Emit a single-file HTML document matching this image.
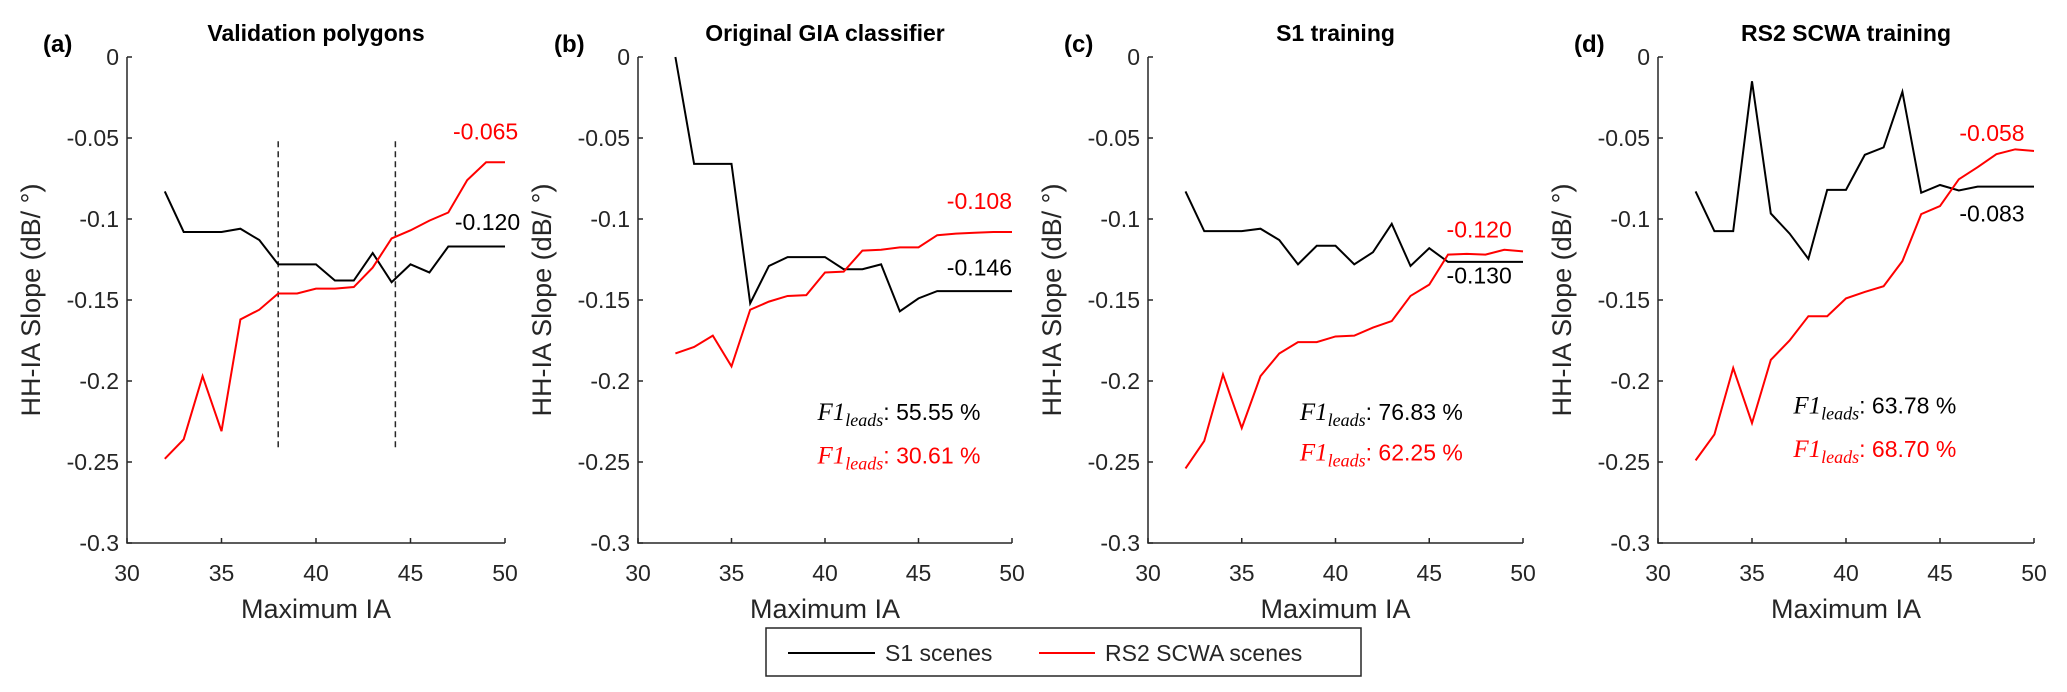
<!DOCTYPE html>
<html><head><meta charset="utf-8"><style>
html,body{margin:0;padding:0;background:#fff;}
svg{display:block;font-family:"Liberation Sans",Arial,sans-serif;}
</style></head><body>
<svg id="fig" width="2067" height="692" viewBox="0 0 2067 692">
<g id="panels"></g>
<g>
<rect x="766" y="628" width="595" height="48" fill="#fff" stroke="#262626" stroke-width="1.5"/>
<line x1="788" y1="653" x2="875" y2="653" stroke="#000" stroke-width="2"/>
<text x="885" y="661" font-size="23" fill="#262626">S1 scenes</text>
<line x1="1039" y1="653" x2="1095" y2="653" stroke="#f00" stroke-width="2"/>
<text x="1105" y="661" font-size="23" fill="#262626">RS2 SCWA scenes</text>
</g>
</svg>
<script>
const xCats = [32,33,34,35,36,37,38,39,40,41,42,43,44,45,46,47,48,49,50];
const xTicks = [30,35,40,45,50];
const yTicks = [0,-0.05,-0.1,-0.15,-0.2,-0.25,-0.3];
const yTickLabels = ["0","-0.05","-0.1","-0.15","-0.2","-0.25","-0.3"];
const panelTitles = ["Validation polygons","Original GIA classifier","S1 training","RS2 SCWA training"];
const panelTags = ["(a)","(b)","(c)","(d)"];
const s1A = [-0.083,-0.108,-0.108,-0.108,-0.106,-0.113,-0.128,-0.128,-0.128,-0.138,-0.138,-0.121,-0.139,-0.128,-0.133,-0.117,-0.117,-0.117,-0.117];
const rs2A = [-0.248,-0.236,-0.197,-0.231,-0.162,-0.156,-0.146,-0.146,-0.143,-0.143,-0.142,-0.130,-0.112,-0.107,-0.101,-0.096,-0.076,-0.065,-0.065];
const s1B = [0,-0.066,-0.066,-0.066,-0.152,-0.129,-0.1235,-0.1235,-0.1235,-0.131,-0.131,-0.128,-0.157,-0.149,-0.1445,-0.1445,-0.1445,-0.1445,-0.1445];
const rs2B = [-0.183,-0.179,-0.172,-0.191,-0.156,-0.151,-0.1475,-0.147,-0.133,-0.1325,-0.1195,-0.119,-0.1175,-0.1175,-0.110,-0.109,-0.1085,-0.108,-0.108];
const s1C = [-0.083,-0.1075,-0.1075,-0.1075,-0.106,-0.113,-0.128,-0.1165,-0.1165,-0.128,-0.1205,-0.103,-0.129,-0.118,-0.1265,-0.1265,-0.1265,-0.1265,-0.1265];
const rs2C = [-0.254,-0.237,-0.196,-0.229,-0.197,-0.183,-0.176,-0.176,-0.1725,-0.172,-0.167,-0.163,-0.1475,-0.1405,-0.122,-0.1215,-0.122,-0.119,-0.120];
const s1D = [-0.083,-0.1075,-0.1075,-0.015,-0.0966,-0.109,-0.1246,-0.082,-0.082,-0.0604,-0.0558,-0.0215,-0.0838,-0.079,-0.0824,-0.080,-0.080,-0.080,-0.080];
const rs2D = [-0.249,-0.233,-0.192,-0.226,-0.187,-0.175,-0.160,-0.160,-0.149,-0.145,-0.1415,-0.126,-0.097,-0.092,-0.0755,-0.068,-0.060,-0.057,-0.058];
const endLabelsS1 = ["-0.120","-0.146","-0.130","-0.083"];
const endLabelsRS2 = ["-0.065","-0.108","-0.120","-0.058"];
const f1S1 = ["","55.55","76.83","63.78"];
const f1RS2 = ["","30.61","62.25","68.70"];
const dashedX = [38,44.2];

const NS="http://www.w3.org/2000/svg";
const root=document.getElementById('panels');
const panels=[
 {x0:127,x1:505,s1:s1A,r:rs2A,lr:[50.7,-0.046],lb:[50.8,-0.102],f1:null,dash:true},
 {x0:638,x1:1012,s1:s1B,r:rs2B,lr:[50.0,-0.089],lb:[50.0,-0.130],f1:[39.6,-0.219,-0.246]},
 {x0:1148,x1:1523,s1:s1C,r:rs2C,lr:[49.4,-0.1066],lb:[49.4,-0.135],f1:[38.1,-0.219,-0.244]},
 {x0:1658,x1:2034,s1:s1D,r:rs2D,lr:[49.5,-0.047],lb:[49.5,-0.0965],f1:[37.2,-0.215,-0.242]}
];
const Y0=57,Y1=543;
function yS(v){return Y0+(-v)/0.3*(Y1-Y0);}
function mk(tag,attrs,parent){const e=document.createElementNS(NS,tag);for(const k in attrs)e.setAttribute(k,attrs[k]);parent.appendChild(e);return e;}
panels.forEach((p,i)=>{
 const xS=v=>p.x0+(v-30)/20*(p.x1-p.x0);
 const g=mk('g',{},root);
 
 
 const t=mk('text',{x:(p.x0+p.x1)/2,y:41,'font-size':23,'font-weight':'bold','text-anchor':'middle',fill:'#000'},g);
 t.textContent=panelTitles[i];
 
 
 const tg=mk('text',{x:p.x0-84,y:52,'font-size':24,'font-weight':'bold',fill:'#000'},g);
 tg.textContent=panelTags[i];
 
 
 const ax=mk('path',{d:`M${p.x0},${Y0} V${Y1} H${p.x1}`,fill:'none',stroke:'#262626','stroke-width':1.5},g);
 
 
 yTicks.forEach((v,k)=>{
  mk('line',{x1:p.x0,x2:p.x0+5,y1:yS(v),y2:yS(v),stroke:'#262626','stroke-width':1.5},g);
  const l=mk('text',{x:p.x0-8,y:yS(v)+8,'font-size':23,'text-anchor':'end',fill:'#262626'},g);
  l.textContent=yTickLabels[k];
  
  
 });
 xTicks.forEach(v=>{
  mk('line',{x1:xS(v),x2:xS(v),y1:Y1,y2:Y1-5,stroke:'#262626','stroke-width':1.5},g);
  const l=mk('text',{x:xS(v),y:581,'font-size':23,'text-anchor':'middle',fill:'#262626'},g);
  l.textContent=v;
  
  
 });
 const xt=mk('text',{x:(p.x0+p.x1)/2,y:618,'font-size':27,'text-anchor':'middle',fill:'#262626'},g);
 xt.textContent='Maximum IA';
 
 
 const yt=mk('text',{x:0,y:0,'font-size':27,'text-anchor':'middle',fill:'#262626',transform:`translate(${p.x0-87},300) rotate(-90)`},g);
 yt.textContent='HH-IA Slope (dB/ °)';
 
 
 if(p.dash){dashedX.forEach(d=>{
  const dl=mk('line',{x1:xS(d),x2:xS(d),y1:yS(-0.052),y2:yS(-0.243),stroke:'#262626','stroke-width':1.5,'stroke-dasharray':'6,4'},g);
  
  
 });}
 const line=(arr,col,name)=>{
  const pl=mk('polyline',{points:xCats.map((x,k)=>xS(x)+','+yS(arr[k])).join(' '),fill:'none',stroke:col,'stroke-width':2},g);
  
  
 };
 line(p.s1,'#000','s1-line');
 line(p.r,'#f00','rs2-line');
 const el1=mk('text',{x:xS(p.lr[0]),y:yS(p.lr[1])+8,'font-size':23,'text-anchor':'end',fill:'#f00'},g);
 el1.textContent=endLabelsRS2[i];
 
 
 const el2=mk('text',{x:xS(p.lb[0]),y:yS(p.lb[1])+8,'font-size':23,'text-anchor':'end',fill:'#000'},g);
 el2.textContent=endLabelsS1[i];
 
 
 if(p.f1){
  [[p.f1[1],f1S1[i],'#000','s1-f1-score'],[p.f1[2],f1RS2[i],'#f00','rs2-f1-score']].forEach(a=>{
   const ft=mk('text',{x:xS(p.f1[0]),y:yS(a[0])+8,'font-size':23,fill:a[2]},g);
   
   
   const s1=mk('tspan',{'font-family':'Liberation Serif, serif','font-style':'italic','font-size':25},ft);s1.textContent='F1';
   const s2=mk('tspan',{'font-family':'Liberation Serif, serif','font-style':'italic','font-size':18,dy:6},ft);s2.textContent='leads';
   const s3=mk('tspan',{dy:-6},ft);s3.textContent=': '+a[1]+' %';
  });
 }
});
</script>
</body></html>
